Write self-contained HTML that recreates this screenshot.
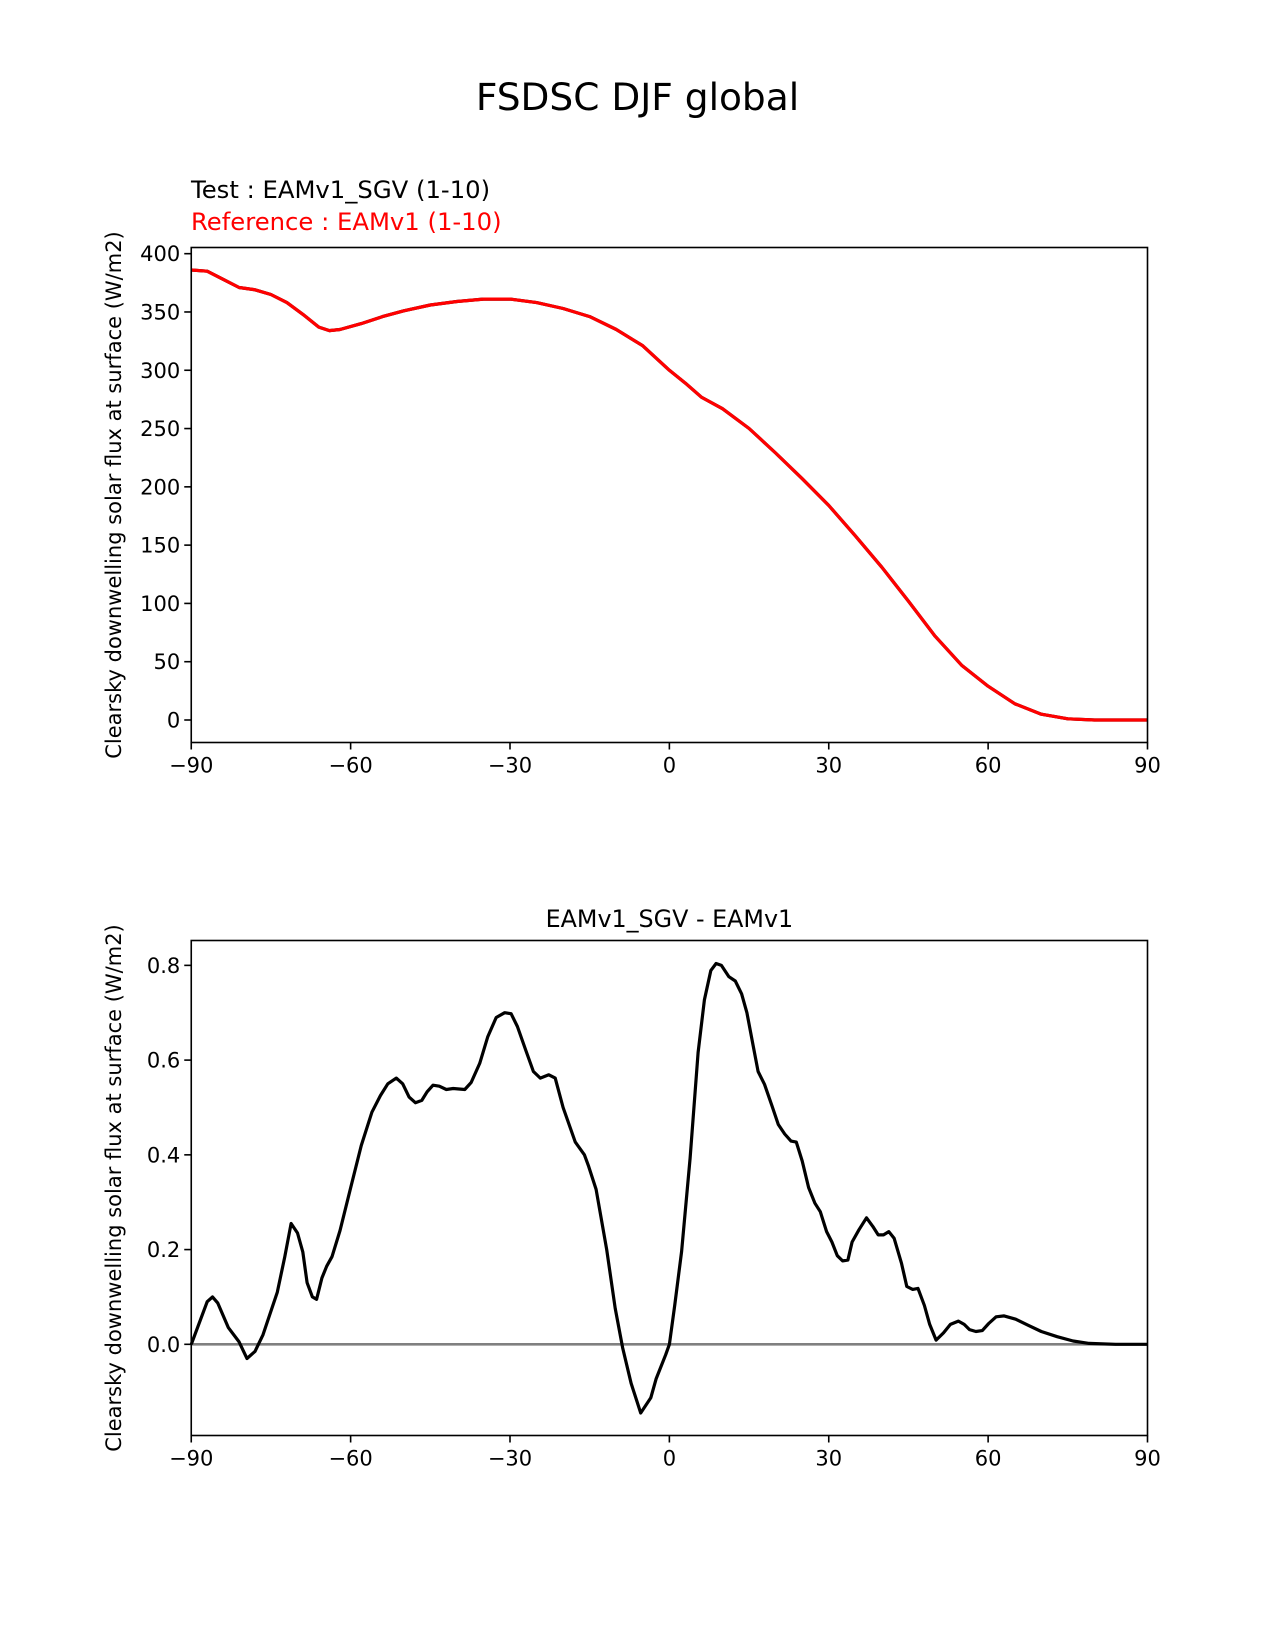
<!DOCTYPE html>
<html><head><meta charset="utf-8">
<style>
html,body{margin:0;padding:0;background:#fff;}
svg{display:block;}
text{font-family:"DejaVu Sans","Liberation Sans",sans-serif;}
</style></head>
<body>
<svg id="fig" width="1275" height="1650" viewBox="0 0 1275 1650" xmlns="http://www.w3.org/2000/svg">
<text x="637.5" y="110" font-size="37.5" text-anchor="middle">FSDSC DJF global</text>
<text x="191" y="198" font-size="24.3">Test : EAMv1_SGV (1-10)</text>
<text x="191" y="230" font-size="24.3" fill="#ff0000">Reference : EAMv1 (1-10)</text>
<text x="669.4" y="927" font-size="23.8" text-anchor="middle">EAMv1_SGV - EAMv1</text>
<g id="top"></g>
<g id="bot"></g>
</svg>
<script>
const latTop = [-90,-87,-84,-81,-78,-75,-72,-69,-66,-64,-62,-58,-54,-50,-45,-40,-35,-30,-25,-20,-15,-10,-5,0,3,6,10,15,20,25,30,35,40,45,50,55,60,65,70,75,80,90];
const testVals = [386,385,378,371,369,365,358,348,337,334,335,340,346,351,356,359,361,361,358,353,346,335,321,300,289,277,267,250,229,207,184,158,131,102,72,47,29,14,5,1,0,0];
const refVals = testVals.slice();
const latDiff = [-90,-87,-86,-85,-83,-81,-79.5,-78,-76.5,-75,-73.8,-72.4,-71.2,-70,-69,-68.2,-67.2,-66.4,-65.4,-64.5,-63.5,-62,-60,-58,-56,-54.4,-53,-51.4,-50.2,-49,-47.8,-46.6,-45.6,-44.5,-43.3,-42,-40.7,-38.5,-37.3,-35.7,-34.2,-32.6,-31,-29.8,-28.6,-27,-25.6,-24.3,-22.7,-21.5,-20,-17.7,-16,-15.2,-13.8,-11.8,-10.2,-8.8,-7.2,-5.4,-3.5,-2.5,-0.7,0,1,2.3,3.9,5.4,6.6,7.8,8.8,9.8,11.2,12.4,13.6,14.6,15.8,16.7,17.9,19.3,20.5,21.7,22.9,23.9,25,26.2,27.4,28.4,29.6,30.6,31.6,32.6,33.6,34.4,35.7,37.1,38.3,39.3,40.3,41.3,42.3,43.7,44.7,45.8,46.8,48,49,50.2,51.6,52.9,54.4,55.5,56.5,57.7,58.9,60.1,61.5,63,65.2,67.6,70,73,76,79,84,90];
const diffVals = [0,0.09,0.10,0.087,0.035,0.005,-0.03,-0.015,0.02,0.07,0.11,0.185,0.255,0.235,0.195,0.13,0.1,0.095,0.14,0.165,0.185,0.24,0.33,0.42,0.49,0.525,0.55,0.562,0.55,0.522,0.51,0.515,0.533,0.547,0.545,0.538,0.54,0.538,0.553,0.593,0.649,0.69,0.7,0.698,0.671,0.62,0.576,0.562,0.569,0.562,0.5,0.427,0.4,0.376,0.327,0.2,0.076,-0.007,-0.082,-0.145,-0.113,-0.073,-0.022,0,0.082,0.196,0.393,0.616,0.727,0.789,0.804,0.8,0.776,0.767,0.74,0.7,0.629,0.576,0.549,0.504,0.464,0.444,0.429,0.427,0.387,0.331,0.298,0.28,0.238,0.216,0.187,0.176,0.178,0.216,0.242,0.267,0.249,0.231,0.231,0.238,0.224,0.171,0.122,0.116,0.118,0.082,0.042,0.009,0.024,0.042,0.049,0.042,0.031,0.027,0.029,0.044,0.058,0.06,0.053,0.04,0.027,0.016,0.007,0.002,0,0];
const xTicks = [-90,-60,-30,0,30,60,90];
const xTickLabels = ["\u221290","\u221260","\u221230","0","30","60","90"];
const yTicksTop = [0,50,100,150,200,250,300,350,400];
const yTicksTopLabels = ["0","50","100","150","200","250","300","350","400"];
const yTicksBot = [0,0.2,0.4,0.6,0.8];
const yTicksBotLabels = ["0.0","0.2","0.4","0.6","0.8"];

const NS="http://www.w3.org/2000/svg";
const L=191.25,R=1147.5;
function mk(p,tag,at){const e=document.createElementNS(NS,tag);for(const k in at)e.setAttribute(k,at[k]);p.appendChild(e);return e;}
function xs(v){return L+(v+90)/180*(R-L);}
function panel(g,T,B,ymin,ymax,yt,ytl){
  const ys=v=>B-(v-ymin)/(ymax-ymin)*(B-T);
  const lab=mk(g,'text',{x:0,y:0,'font-size':21,'text-anchor':'middle',transform:`translate(121,${(T+B)/2}) rotate(-90)`});
  
  
  lab.textContent='Clearsky downwelling solar flux at surface (W/m2)';
  xTicks.forEach((v,i)=>{
    const t=mk(g,'line',{x1:xs(v),x2:xs(v),y1:B,y2:B+7,stroke:'#000','stroke-width':1.6});
    
    
    const tx=mk(g,'text',{x:xs(v),y:B+30,'font-size':21,'text-anchor':'middle'});
    
    
    tx.textContent=xTickLabels[i];
  });
  yt.forEach((v,i)=>{
    const t=mk(g,'line',{x1:L-7,x2:L,y1:ys(v),y2:ys(v),stroke:'#000','stroke-width':1.6});
    
    
    const tx=mk(g,'text',{x:L-11,y:ys(v)+7.5,'font-size':21,'text-anchor':'end'});
    
    
    tx.textContent=ytl[i];
  });
  return ys;
}
function line(g,xsArr,ysArr,ys,color,w,name){
  const d=xsArr.map((v,i)=>(i?'L':'M')+xs(v).toFixed(1)+','+ys(ysArr[i]).toFixed(1)).join('');
  const p=mk(g,'path',{d:d,fill:'none',stroke:color,'stroke-width':w,'stroke-linejoin':'round'});
  
  
}
function frame(g,T,B){
  const r=mk(g,'rect',{x:L,y:T,width:R-L,height:B-T,fill:'none',stroke:'#000','stroke-width':1.6});
  
  
}
const gt=document.getElementById('top');
const ysT=panel(gt,247.5,742.5,-19.3,405.3,yTicksTop,yTicksTopLabels);
line(gt,latTop,testVals,ysT,'#000',3.2,'test-line');
line(gt,latTop,refVals,ysT,'#ff0000',3.2,'reference-line');
frame(gt,247.5,742.5);
const gb=document.getElementById('bot');
const ysB=panel(gb,940.5,1435.5,-0.1925,0.8525,yTicksBot,yTicksBotLabels);
const z=mk(gb,'line',{x1:L,x2:R,y1:ysB(0),y2:ysB(0),stroke:'#808080','stroke-width':2.6});


line(gb,latDiff,diffVals,ysB,'#000',3.2,'difference-line');
frame(gb,940.5,1435.5);
</script>
</body></html>
